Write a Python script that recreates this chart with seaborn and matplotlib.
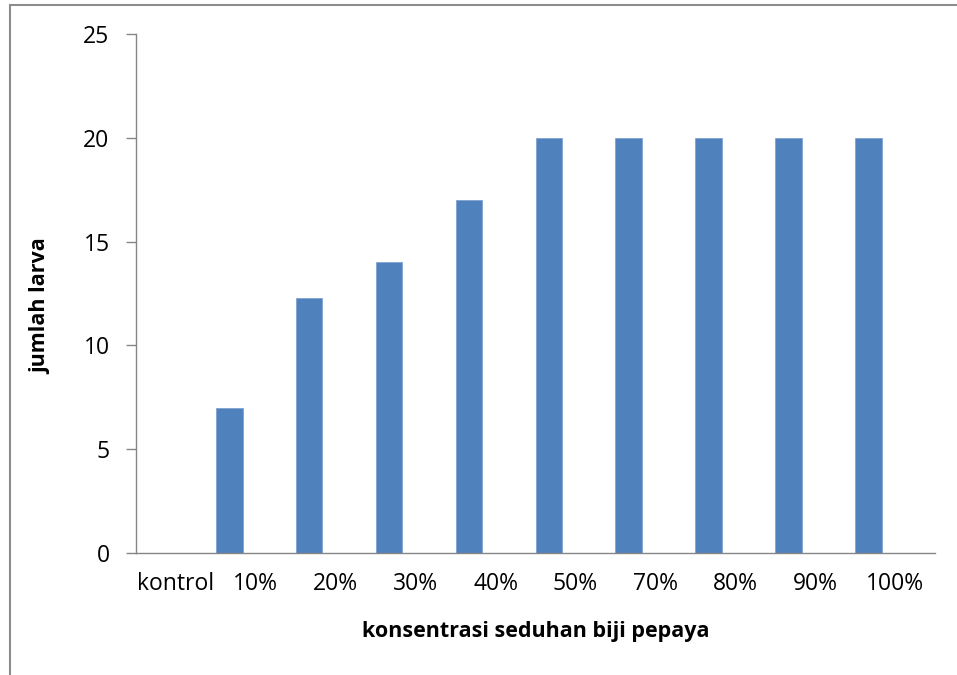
import matplotlib
matplotlib.use("Agg")
import matplotlib.pyplot as plt
from matplotlib.patches import Rectangle
import seaborn as sns
import pandas as pd

categories = ["kontrol", "10%", "20%", "30%", "40%", "50%", "70%", "80%", "90%", "100%"]
jumlah_larva = [0, 7, 12.3, 14, 17, 20, 20, 20, 20, 20]
series_order = ["Series1", "Series2", "Series3"]
y_ticks = [0, 5, 10, 15, 20, 25]

sns.set_theme(style="white")
plt.rcParams["font.family"] = ["Open Sans", "DejaVu Sans"]

df = pd.DataFrame({
    "konsentrasi": categories,
    "jumlah": jumlah_larva,
    "seri": ["Series1"] * len(categories),
})

fig = plt.figure(figsize=(9.57, 6.75), dpi=100)
# chart area border
fig.patches.append(Rectangle((10 / 957, -0.05), 1.2, 1 - 5 / 675 + 0.05,
                             transform=fig.transFigure, fill=False,
                             edgecolor="#8c8c8c", linewidth=1.5))

ax = fig.add_axes([136 / 957, 1 - 553 / 675, (935 - 136) / 957, (553 - 34) / 675])

sns.barplot(data=df, x="konsentrasi", y="jumlah", hue="seri", hue_order=series_order,
            palette=["#4F81BD"] * 3, width=1.0, dodge=True, saturation=1,
            order=categories, edgecolor="#7fa3d3", linewidth=0.6,
            legend=False, ax=ax)

ax.set_ylim(0, 25)
ax.set_xlim(-0.5, len(categories) - 0.5)
ax.set_yticks(y_ticks)
ax.set_yticklabels([str(t) for t in y_ticks])

for side in ["top", "right"]:
    ax.spines[side].set_visible(False)
for side in ["left", "bottom"]:
    ax.spines[side].set_color("#868686")
    ax.spines[side].set_linewidth(1.0)

ax.tick_params(axis="y", direction="out", length=7, width=1.0, color="#868686",
               pad=12, labelsize=16.5, left=True, labelcolor="black")
ax.tick_params(axis="x", length=0, pad=14, labelsize=16.5, labelcolor="black")

ax.set_xlabel("konsentrasi seduhan biji pepaya", fontsize=15.5, fontweight="bold",
              labelpad=18, color="black")
ax.set_ylabel("jumlah larva", fontsize=15.5, fontweight="bold", color="black")
ax.yaxis.set_label_coords(-0.106, 0.475)

fig.savefig("out.png", dpi=100)
